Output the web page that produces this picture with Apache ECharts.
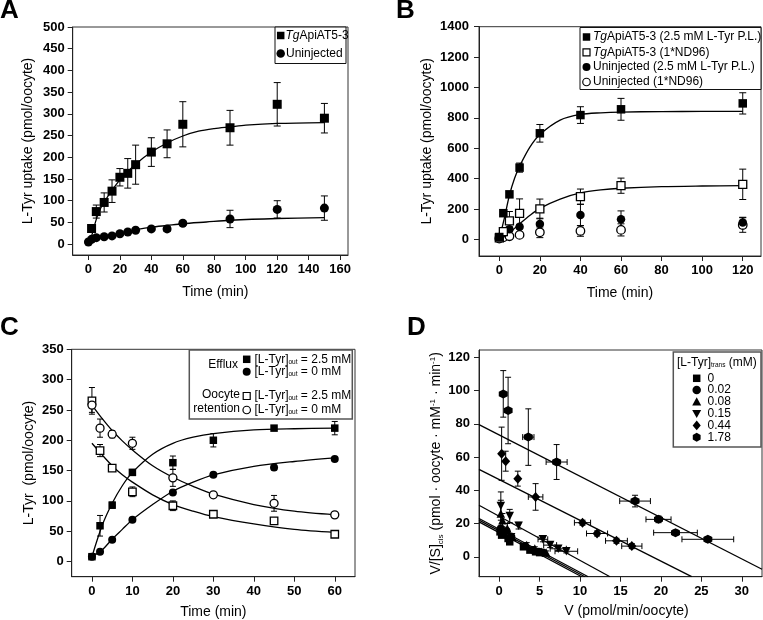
<!DOCTYPE html>
<html><head><meta charset="utf-8">
<script src="https://cdn.jsdelivr.net/npm/echarts@6/dist/echarts.min.js"></script>
<style>html,body{margin:0;padding:0;background:#fff}#c{width:763px;height:620px}</style>
</head><body><div id="c"></div>
<script>
// ---------------- Panel A ----------------
const aTimeTg = [2, 5, 10, 15, 20, 25, 30, 40, 50, 60, 90, 120, 150];
const aUptakeTg = [36, 75, 96, 122, 154, 163, 183, 212, 231, 276, 268, 322, 290];
const aErrTg = [5, 15, 22, 26, 20, 34, 45, 33, 32, 52, 40, 50, 34];
const aTimeUn = [0, 2, 5, 10, 15, 20, 25, 30, 40, 50, 60, 90, 120, 150];
const aUptakeUn = [5, 11, 15, 17, 19, 24, 28, 32, 35, 35, 48, 58, 80, 83];
const aErrUn = [2, 2, 3, 3, 3, 3, 4, 4, 4, 6, 5, 20, 20, 28];
const aFitTimeTg = [2, 6, 10, 20, 30, 40, 50, 60, 70, 80, 90, 100, 120, 150];
const aFitTg = [18, 68, 97, 148, 184, 212, 233, 249, 260, 266, 270, 274, 278, 280];
const aFitTimeUn = [0, 10, 20, 30, 40, 50, 60, 75, 90, 120, 150];
const aFitUn = [5, 17, 26, 33, 39, 43, 47, 51, 55, 59, 61];
const aXTicks = [0, 20, 40, 60, 80, 100, 120, 140, 160];
const aYTicks = [0, 50, 100, 150, 200, 250, 300, 350, 400, 450, 500];

// ---------------- Panel B ----------------
const bTime = [0, 2, 5, 10, 20, 40, 60, 120];
const bTgPL = [15, 172, 296, 472, 698, 818, 856, 895];
const bErrTgPL = [5, 10, 15, 30, 58, 55, 72, 70];
const bTgND = [10, 50, 121, 171, 200, 281, 353, 362];
const bErrTgND = [5, 15, 62, 95, 65, 50, 50, 100];
const bUnPL = [15, 40, 66, 83, 101, 160, 132, 110];
const bErrUnPL = [5, 8, 15, 15, 38, 70, 55, 35];
const bUnND = [5, 13, 20, 29, 46, 55, 62, 94];
const bErrUnND = [3, 5, 5, 8, 35, 35, 40, 48];
const bFitTimeTgPL = [0, 2.5, 5, 7.5, 10, 15, 20, 30, 40, 50, 60, 80, 100, 120];
const bFitTgPL = [0, 140, 290, 400, 480, 605, 690, 785, 822, 833, 838, 841, 842, 842];
const bFitTimeTgND = [5, 7.5, 10, 15, 20, 30, 40, 50, 60, 80, 100, 120];
const bFitTgND = [40, 72, 101, 157, 204, 265, 305, 325, 336, 347, 351, 353];
const bXTicks = [0, 20, 40, 60, 80, 100, 120];
const bYTicks = [0, 200, 400, 600, 800, 1000, 1200, 1400];

// ---------------- Panel C ----------------
const cTime = [0, 2, 5, 10, 20, 30, 45, 60];
const cEffluxHi = [8, 59, 93, 147, 163, 200, 220, 220];
const cErrEffluxHi = [3, 17, 5, 5, 11, 11, 3, 11];
const cEffluxZero = [8, 16, 36, 69, 114, 143, 155, 169];
const cErrEffluxZero = [3, 3, 3, 3, 3, 3, 4, 3];
const cRetHi = [265, 183, 154, 115, 92, 78, 67, 45];
const cErrRetHi = [22, 10, 3, 8, 8, 4, 3, 3];
const cRetZero = [258, 220, 210, 195, 138, 110, 96, 77];
const cErrRetZero = [12, 15, 6, 10, 14, 4, 13, 3];
const cFitTime = [0, 2.5, 5, 7.5, 10, 15, 20, 25, 30, 40, 50, 60];
const cFitEffluxHi = [8, 59, 96, 125, 147, 177, 195, 205, 211, 217, 219, 220];
const cFitEffluxZero = [8, 19, 37, 53, 69, 94, 116, 131, 143, 157, 165, 171];
const cFitRetHi = [195, 176, 158, 143, 131, 110, 94, 83, 74, 62, 53, 48];
const cFitRetZero = [258, 236, 216, 199, 184, 158, 139, 124, 111, 94, 83, 77];
const cXTicks = [0, 10, 20, 30, 40, 50, 60];
const cYTicks = [0, 50, 100, 150, 200, 250, 300, 350];

// ---------------- Panel D ----------------
const dV0 = [0.1, 0.3, 1.1, 1.3, 3.0, 3.8, 4.5, 5.0];
const dR0 = [15, 13, 11, 9, 6, 4, 3, 2.5];
const dV002 = [0.2, 0.9, 1.5, 3.2, 4.2, 4.9, 5.4];
const dR002 = [17, 15.5, 12, 6.5, 4, 3, 2.5];
const dV008 = [0.2, 0.4, 1.0, 1.6, 3.4, 4.4, 5.2, 5.8];
const dR008 = [26, 22, 17, 12, 7, 5, 3, 2.5];
const dErrR008 = [8, 4, 3, 2, 1.5, 1, 1, 1];
const dV015 = [0.2, 1.3, 2.4, 5.4, 6.3, 7.3, 8.3];
const dR015 = [30.5, 24.5, 18.7, 10.5, 7, 4.8, 3.3];
const dErrR015 = [8.5, 4, 2, 1.5, 1.5, 1, 1];
const dErrV015 = [0, 0, 0, 0.6, 0.8, 1.0, 1.4];
const dV044 = [0.3, 0.8, 2.3, 4.5, 10.3, 12.1, 14.5, 16.4];
const dR044 = [62, 57.5, 47, 36, 20.5, 14, 9.6, 6.4];
const dErrR044 = [16, 6, 4.5, 8, 1.5, 1.5, 1.5, 1.5];
const dErrV044 = [0, 0, 0, 0.9, 1.0, 1.3, 1.35, 1.25];
const dV178 = [0.5, 1.1, 3.6, 7.1, 16.8, 19.7, 21.8, 25.8];
const dR178 = [98, 88, 72, 57, 33.5, 22.5, 14.5, 10.5];
const dErrR178 = [14, 20, 17, 10.5, 3.5, 2, 1.5, 1.5];
const dErrV178 = [0, 0, 0.7, 1.3, 1.9, 1.55, 2.7, 3.2];
const dFit0 = [[-2.5, 21], [10.2, -12]];
const dFit002 = [[-2.5, 22], [10.6, -12]];
const dFit008 = [[-2.5, 23], [11.0, -12]];
const dFit015 = [[-2.5, 31], [13.7, -12]];
const dFit044 = [[-2.5, 52.6], [23.8, -12]];
const dFit178 = [[-2.5, 79.5], [32.5, -7.5]];
const dXTicks = [0, 5, 10, 15, 20, 25, 30];
const dYTicks = [0, 20, 40, 60, 80, 100, 120];
const dLegendLabels = ['0', '0.02', '0.08', '0.15', '0.44', '1.78'];

// ---------------- helpers ----------------
const FONT = 'Liberation Sans, Arial, Helvetica, sans-serif';
const HEX = 'path://M0,-10 L8.66,-5 L8.66,5 L0,10 L-8.66,5 L-8.66,-5 Z';

function zip(xs, ys) { return xs.map((x, i) => [x, ys[i]]); }

function mkX(gi, min, max, ticks, name, gap, pad) {
  return {
    type: 'value', gridIndex: gi, min: min, max: max,
    axisLine: { show: true, onZero: false, lineStyle: { color: '#222', width: 1 } },
    axisTick: { show: true, customValues: ticks, length: 5, lineStyle: { color: '#222' } },
    axisLabel: { customValues: ticks, formatter: v => String(v), fontFamily: FONT, fontWeight: 'bold', fontSize: 13, color: '#000', margin: 8 },
    splitLine: { show: false },
    name: name, nameLocation: 'middle', nameGap: gap,
    nameTextStyle: { fontFamily: FONT, fontSize: 14, color: '#000', padding: pad || 0 }
  };
}
function mkY(gi, min, max, ticks, name, gap, pad, margin, rich) {
  return {
    type: 'value', gridIndex: gi, min: min, max: max,
    axisLine: { show: true, onZero: false, lineStyle: { color: '#222', width: 1 } },
    axisTick: { show: true, customValues: ticks, length: 5, lineStyle: { color: '#222' } },
    axisLabel: { customValues: ticks, formatter: v => String(v), fontFamily: FONT, fontWeight: 'bold', fontSize: 13, color: '#000', margin: margin },
    splitLine: { show: false },
    name: name, nameLocation: 'middle', nameGap: gap,
    nameTextStyle: { fontFamily: FONT, fontSize: 14, color: '#000', padding: pad || 0, rich: rich || {} }
  };
}
function fitLine(gi, data) {
  return { type: 'line', xAxisIndex: gi, yAxisIndex: gi, data: data, showSymbol: false, symbol: 'none',
    smooth: 0.3, lineStyle: { color: '#000', width: 1.3 }, z: 2, silent: true, animation: false };
}
function straight(gi, data) {
  return { type: 'line', xAxisIndex: gi, yAxisIndex: gi, data: data, showSymbol: false, symbol: 'none',
    lineStyle: { color: '#000', width: 1.3 }, z: 2, silent: true, animation: false };
}
function pts(gi, xs, ys, symbol, size, open, rotate) {
  return { type: 'scatter', xAxisIndex: gi, yAxisIndex: gi, data: zip(xs, ys), symbol: symbol, symbolSize: size,
    symbolRotate: rotate || 0,
    itemStyle: open ? { color: '#fff', borderColor: '#000', borderWidth: 1.3, opacity: 1 } : { color: '#000', opacity: 1 },
    z: 4, silent: true, animation: false };
}
function errs(gi, xs, ys, ey, ex, cap) {
  const data = xs.map((x, i) => [x, ys[i], ey ? ey[i] : 0, ex ? ex[i] : 0]);
  return {
    type: 'custom', xAxisIndex: gi, yAxisIndex: gi, data: data, encode: { x: 0, y: 1 }, z: 3, silent: true, animation: false,
    renderItem: function (params, api) {
      const x = api.value(0), y = api.value(1), e1 = api.value(2), e2 = api.value(3);
      const ch = [];
      const st = { stroke: '#000', lineWidth: 1 };
      const h = cap / 2;
      if (e1 > 0) {
        const p1 = api.coord([x, y + e1]), p2 = api.coord([x, y - e1]);
        ch.push({ type: 'line', shape: { x1: p1[0], y1: p1[1], x2: p2[0], y2: p2[1] }, style: st });
        ch.push({ type: 'line', shape: { x1: p1[0] - h, y1: p1[1], x2: p1[0] + h, y2: p1[1] }, style: st });
        ch.push({ type: 'line', shape: { x1: p2[0] - h, y1: p2[1], x2: p2[0] + h, y2: p2[1] }, style: st });
      }
      if (e2 > 0) {
        const p1 = api.coord([x - e2, y]), p2 = api.coord([x + e2, y]);
        ch.push({ type: 'line', shape: { x1: p1[0], y1: p1[1], x2: p2[0], y2: p2[1] }, style: st });
        ch.push({ type: 'line', shape: { x1: p1[0], y1: p1[1] - h, x2: p1[0], y2: p1[1] + h }, style: st });
        ch.push({ type: 'line', shape: { x1: p2[0], y1: p2[1] - h, x2: p2[0], y2: p2[1] + h }, style: st });
      }
      return { type: 'group', children: ch };
    }
  };
}

// legend marker shapes (graphic)
function mk(type, cx, cy, s, open) {
  const style = open ? { fill: '#fff', stroke: '#000', lineWidth: 1.2 } : { fill: '#000' };
  const r = s / 2;
  if (type === 'rect') return { type: 'rect', shape: { x: cx - r, y: cy - r, width: s, height: s }, style: style };
  if (type === 'circle') return { type: 'circle', shape: { cx: cx, cy: cy, r: r }, style: style };
  let p;
  if (type === 'up') p = [[cx, cy - r], [cx + r, cy + r * 0.8], [cx - r, cy + r * 0.8]];
  if (type === 'down') p = [[cx, cy + r], [cx + r, cy - r * 0.8], [cx - r, cy - r * 0.8]];
  if (type === 'diamond') p = [[cx, cy - r * 1.1], [cx + r * 0.9, cy], [cx, cy + r * 1.1], [cx - r * 0.9, cy]];
  if (type === 'hex') p = [[cx, cy - r], [cx + r * 0.87, cy - r / 2], [cx + r * 0.87, cy + r / 2], [cx, cy + r], [cx - r * 0.87, cy + r / 2], [cx - r * 0.87, cy - r / 2]];
  return { type: 'polygon', shape: { points: p }, style: style };
}
function txt(x, y, text, opts) {
  opts = opts || {};
  return { type: 'text', x: x, y: y, style: Object.assign({
    text: text, fontFamily: FONT, fontSize: 12, fill: '#000', align: 'left', verticalAlign: 'middle',
    rich: {
      i: { fontStyle: 'italic', fontFamily: FONT, fontSize: 12, fill: '#000' },
      sub: { fontFamily: FONT, fontSize: 6.5, fill: '#000', verticalAlign: 'bottom', padding: [5, 0, 0, 0] }
    }
  }, opts) };
}
function box(x, y, w, h, color, lw) {
  return { type: 'rect', shape: { x: x, y: y, width: w, height: h }, style: { fill: '#fff', stroke: color, lineWidth: lw }, z: 10 };
}

const grids = [
  { left: 72.7, top: 27, width: 275.3, height: 228 },
  { left: 479, top: 26.7, width: 282, height: 229.3 },
  { left: 71.7, top: 349.3, width: 283.3, height: 227.4 },
  { left: 479, top: 350, width: 283, height: 226.7 }
].map(g => Object.assign(g, { show: true, borderColor: '#333', borderWidth: 1, backgroundColor: 'transparent', containLabel: false }));

const dRich = {
  sub: { fontFamily: FONT, fontSize: 8, color: '#000', verticalAlign: 'bottom', lineHeight: 16 },
  sup: { fontFamily: FONT, fontSize: 8, color: '#000', verticalAlign: 'top', lineHeight: 16 }
};

const xAxes = [
  mkX(0, -10, 165, aXTicks, 'Time (min)', 30, [0, 0, 0, 10]),
  mkX(1, -10, 129, bXTicks, 'Time (min)', 30),
  mkX(2, -5, 65, cXTicks, 'Time (min)', 28),
  mkX(3, -2.5, 32.5, dXTicks, 'V (pmol/min/oocyte)', 27, [0, 0, 0, 12])
];
const yAxes = [
  mkY(0, -25, 500, aYTicks, 'L-Tyr uptake (pmol/oocyte)', 38, [0, 0, 0, 0], 8),
  mkY(1, -110, 1400, bYTicks, 'L-Tyr uptake (pmol/oocyte)', 45, [0, 0, 0, 0], 10),
  mkY(2, -25, 350, cYTicks, 'L-Tyr  (pmol/oocyte)', 36, [0, 0, 0, 0], 8),
  mkY(3, -12, 124.4, dYTicks, 'V/[S]{sub|cis} (pmol · oocyte · mM{sup|-1} · min{sup|-1})', 34, [0, 0, 0, 0], 9, dRich)
];

const series = [
  // A
  fitLine(0, zip(aFitTimeTg, aFitTg)),
  fitLine(0, zip(aFitTimeUn, aFitUn)),
  errs(0, aTimeTg, aUptakeTg, aErrTg, null, 7),
  errs(0, aTimeUn, aUptakeUn, aErrUn, null, 7),
  pts(0, aTimeTg, aUptakeTg, 'rect', 9, false),
  pts(0, aTimeUn, aUptakeUn, 'circle', 9, false),
  // B
  fitLine(1, zip(bFitTimeTgPL, bFitTgPL)),
  fitLine(1, zip(bFitTimeTgND, bFitTgND)),
  errs(1, bTime, bTgPL, bErrTgPL, null, 7),
  errs(1, bTime, bTgND, bErrTgND, null, 7),
  errs(1, bTime, bUnPL, bErrUnPL, null, 7),
  errs(1, bTime, bUnND, bErrUnND, null, 7),
  pts(1, bTime, bUnND, 'circle', 8.5, true),
  pts(1, bTime, bUnPL, 'circle', 8.5, false),
  pts(1, bTime, bTgND, 'rect', 8, true),
  pts(1, bTime, bTgPL, 'rect', 8.5, false),
  // C
  fitLine(2, zip(cFitTime, cFitEffluxHi)),
  fitLine(2, zip(cFitTime, cFitEffluxZero)),
  fitLine(2, zip(cFitTime, cFitRetHi)),
  fitLine(2, zip(cFitTime, cFitRetZero)),
  errs(2, cTime, cEffluxHi, cErrEffluxHi, null, 6),
  errs(2, cTime, cEffluxZero, cErrEffluxZero, null, 6),
  errs(2, cTime, cRetHi, cErrRetHi, null, 6),
  errs(2, cTime, cRetZero, cErrRetZero, null, 6),
  pts(2, cTime, cRetHi, 'rect', 7.5, true),
  pts(2, cTime, cRetZero, 'circle', 8, true),
  pts(2, cTime, cEffluxHi, 'rect', 7.5, false),
  pts(2, cTime, cEffluxZero, 'circle', 8, false),
  // D
  straight(3, dFit0), straight(3, dFit002), straight(3, dFit008),
  straight(3, dFit015), straight(3, dFit044), straight(3, dFit178),
  errs(3, dV008, dR008, dErrR008, null, 6),
  errs(3, dV015, dR015, dErrR015, dErrV015, 6),
  errs(3, dV044, dR044, dErrR044, dErrV044, 6),
  errs(3, dV178, dR178, dErrR178, dErrV178, 6),
  pts(3, dV0, dR0, 'rect', 7.5, false),
  pts(3, dV002, dR002, 'circle', 8, false),
  pts(3, dV008, dR008, 'triangle', 8.5, false),
  pts(3, dV015, dR015, 'triangle', 8.5, false, 180),
  pts(3, dV044, dR044, 'diamond', [9, 10], false),
  pts(3, dV178, dR178, HEX, 9, false)
];

const graphic = [
  // panel letters
  { type: 'text', x: 0, y: 11, style: { text: 'A', fontFamily: FONT, fontWeight: 'bold', fontSize: 26, fill: '#000', verticalAlign: 'middle' } },
  { type: 'text', x: 396, y: 11, style: { text: 'B', fontFamily: FONT, fontWeight: 'bold', fontSize: 26, fill: '#000', verticalAlign: 'middle' } },
  { type: 'text', x: 0, y: 328, style: { text: 'C', fontFamily: FONT, fontWeight: 'bold', fontSize: 26, fill: '#000', verticalAlign: 'middle' } },
  { type: 'text', x: 407, y: 328, style: { text: 'D', fontFamily: FONT, fontWeight: 'bold', fontSize: 26, fill: '#000', verticalAlign: 'middle' } },
  // A legend
  box(275, 27, 71, 36.5, '#111', 1),
  Object.assign(mk('rect', 280.7, 35.5, 7.5, false), { z: 11 }),
  Object.assign(txt(285.5, 35.5, '{i|Tg}ApiAT5-3'), { z: 11 }),
  Object.assign(mk('circle', 280.7, 53.5, 8.5, false), { z: 11 }),
  Object.assign(txt(286, 53.5, 'Uninjected'), { z: 11 }),
  // B legend
  box(580, 27.5, 181, 62, '#111', 1),
  Object.assign(mk('rect', 586.5, 37, 7.5, false), { z: 11 }),
  Object.assign(txt(593, 37, '{i|Tg}ApiAT5-3 (2.5 mM L-Tyr P.L.)'), { z: 11 }),
  Object.assign(mk('rect', 586.5, 52.3, 7, true), { z: 11 }),
  Object.assign(txt(593, 52.3, '{i|Tg}ApiAT5-3 (1*ND96)'), { z: 11 }),
  Object.assign(mk('circle', 586.5, 67, 8, false), { z: 11 }),
  Object.assign(txt(593, 67, 'Uninjected (2.5 mM L-Tyr P.L.)'), { z: 11 }),
  Object.assign(mk('circle', 586.5, 82, 7.5, true), { z: 11 }),
  Object.assign(txt(593, 82, 'Uninjected (1*ND96)'), { z: 11 }),
  // C legend
  box(189.3, 350, 163, 69, '#555', 1.5),
  Object.assign(txt(238, 365, 'Efflux', { align: 'right' }), { z: 11 }),
  Object.assign(mk('rect', 246.7, 359.3, 7.5, false), { z: 11 }),
  Object.assign(txt(254.5, 359.3, '[L-Tyr]{sub|out} = 2.5 mM'), { z: 11 }),
  Object.assign(mk('circle', 246.7, 371.7, 8, false), { z: 11 }),
  Object.assign(txt(254.5, 371.7, '[L-Tyr]{sub|out} = 0 mM'), { z: 11 }),
  Object.assign(txt(240, 395, 'Oocyte', { align: 'right' }), { z: 11 }),
  Object.assign(txt(240, 409, 'retention', { align: 'right' }), { z: 11 }),
  Object.assign(mk('rect', 246.7, 396, 7, true), { z: 11 }),
  Object.assign(txt(254.5, 396, '[L-Tyr]{sub|out} = 2.5 mM'), { z: 11 }),
  Object.assign(mk('circle', 246.7, 410, 7.5, true), { z: 11 }),
  Object.assign(txt(254.5, 410, '[L-Tyr]{sub|out} = 0 mM'), { z: 11 }),
  // D legend
  box(673.3, 352, 87.7, 95, '#555', 1.5),
  Object.assign(txt(677, 363, '[L-Tyr]{sub|trans} (mM)'), { z: 11 }),
  Object.assign(mk('rect', 696.7, 378.3, 7.5, false), { z: 11 }),
  Object.assign(mk('circle', 696.7, 390, 8.5, false), { z: 11 }),
  Object.assign(mk('up', 696.7, 401.8, 9, false), { z: 11 }),
  Object.assign(mk('down', 696.7, 413.6, 9, false), { z: 11 }),
  Object.assign(mk('diamond', 696.7, 425.4, 9, false), { z: 11 }),
  Object.assign(mk('hex', 696.7, 437.2, 9, false), { z: 11 })
];
dLegendLabels.forEach((t, i) => {
  graphic.push(Object.assign(txt(707.5, 378.3 + i * 11.78, t), { z: 11 }));
});

const chart = echarts.init(document.getElementById('c'), null, { renderer: 'canvas', width: 763, height: 620 });
chart.setOption({
  animation: false,
  backgroundColor: '#fff',
  grid: grids,
  xAxis: xAxes,
  yAxis: yAxes,
  series: series,
  graphic: graphic
});
</script></body></html>
